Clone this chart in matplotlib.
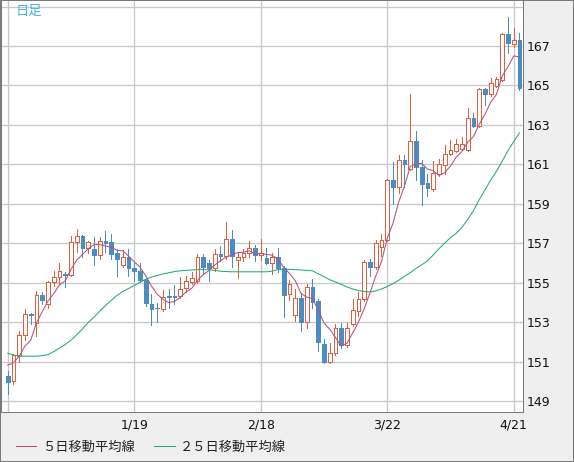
import matplotlib
matplotlib.use("Agg")
import matplotlib.pyplot as plt
from matplotlib.patches import Rectangle
import pandas as pd

# daily candles (oldest first)
opens = [150.26, 150.00, 151.27, 152.33, 153.42, 152.97, 154.38, 153.94, 155.01, 155.27,
         155.43, 155.40, 157.06, 157.38, 156.74, 156.70, 156.40, 157.09, 157.08, 156.48,
         155.89, 156.31, 155.74, 155.60, 155.13, 153.91, 153.73, 153.68, 154.33, 154.33,
         154.33, 154.72, 155.04, 155.10, 156.28, 155.99, 155.72, 156.45, 156.36, 157.21,
         156.14, 156.28, 156.50, 156.76, 156.40, 156.23, 156.02, 156.28, 155.72, 154.42,
         153.34, 154.24, 153.00, 154.79, 154.07, 151.90, 150.98, 151.41, 152.69, 151.82,
         152.89, 153.56, 154.16, 156.07, 155.80, 156.79, 157.16, 160.18, 159.84, 161.23,
         160.78, 162.17, 160.86, 160.04, 159.76, 160.52, 160.98, 161.50, 161.67, 161.76,
         161.74, 163.37, 162.94, 164.80, 164.54, 164.96, 165.27, 167.60, 167.09, 167.31]
highs = [150.51, 151.36, 152.55, 153.65, 153.48, 154.58, 154.53, 155.09, 155.60, 155.97,
         155.52, 157.38, 157.72, 157.43, 157.13, 157.30, 157.30, 157.64, 157.47, 156.70,
         156.65, 156.70, 156.02, 155.97, 155.18, 154.42, 153.99, 154.62, 154.67, 154.89,
         155.26, 155.35, 155.52, 156.45, 156.45, 156.16, 156.70, 156.84, 158.06, 157.69,
         156.53, 156.70, 157.13, 156.91, 157.21, 156.74, 156.50, 156.74, 155.86, 155.14,
         154.67, 154.45, 154.92, 155.18, 154.16, 152.12, 151.95, 152.89, 152.94, 152.97,
         154.16, 154.50, 156.16, 156.20, 157.18, 157.47, 160.27, 161.11, 161.45, 161.45,
         164.56, 162.69, 161.20, 160.52, 161.16, 161.25, 161.96, 162.25, 162.30, 162.38,
         163.86, 163.61, 164.85, 164.85, 165.40, 165.41, 167.65, 168.46, 167.90, 167.65]
lows = [149.34, 149.84, 151.00, 152.07, 152.89, 152.29, 153.94, 153.70, 154.84, 154.92,
        154.80, 155.35, 156.53, 156.28, 156.50, 155.89, 156.20, 156.53, 156.20, 155.35,
        155.77, 155.35, 155.09, 155.01, 153.82, 152.85, 153.02, 153.57, 153.73, 153.91,
        154.24, 154.50, 154.92, 154.96, 155.43, 155.06, 155.60, 156.11, 156.20, 155.77,
        155.23, 156.10, 156.28, 156.11, 156.16, 155.94, 155.43, 155.52, 153.27, 154.12,
        153.06, 152.55, 152.72, 153.73, 151.53, 150.93, 150.93, 151.31, 151.70, 151.73,
        152.79, 153.31, 154.07, 155.35, 155.68, 156.36, 157.13, 158.99, 159.53, 159.84,
        160.69, 160.18, 158.96, 159.37, 159.67, 160.43, 160.52, 161.45, 161.62, 161.71,
        161.67, 162.89, 162.89, 164.00, 164.48, 164.90, 165.23, 166.63, 166.96, 164.76]
closes = [149.97, 151.31, 152.33, 153.40, 153.38, 154.38, 154.12, 155.04, 155.30, 155.60,
          155.38, 157.04, 157.38, 156.74, 157.04, 156.40, 157.09, 157.03, 156.45, 156.20,
          156.31, 155.74, 155.57, 155.13, 153.99, 153.68, 153.70, 154.28, 154.28, 154.28,
          154.70, 155.06, 155.23, 156.28, 155.77, 155.72, 156.45, 156.33, 157.21, 156.36,
          156.28, 156.50, 156.74, 156.40, 156.50, 156.02, 156.28, 155.72, 154.38, 154.92,
          154.24, 153.00, 154.79, 154.04, 151.99, 150.98, 151.41, 152.69, 151.82, 152.72,
          153.60, 154.16, 156.07, 155.80, 157.01, 157.18, 160.18, 159.84, 161.23, 160.99,
          162.17, 160.86, 159.98, 159.79, 160.57, 161.00, 161.50, 161.71, 162.01, 162.01,
          163.37, 162.94, 164.80, 164.54, 165.10, 165.32, 167.60, 167.14, 167.31, 164.85]

# first 5-day MA values need closes before the window
ma5_head = [150.82, 150.93, 151.27, 151.78]
ma25 = [151.42, 151.33, 151.28, 151.27, 151.27, 151.27, 151.30, 151.35, 151.50, 151.68,
        151.86, 152.08, 152.35, 152.65, 152.98, 153.25, 153.55, 153.83, 154.10, 154.35,
        154.55, 154.70, 154.85, 155.02, 155.17, 155.28, 155.36, 155.44, 155.50, 155.56,
        155.60, 155.62, 155.64, 155.66, 155.66, 155.65, 155.62, 155.58, 155.56, 155.55,
        155.55, 155.55, 155.55, 155.55, 155.55, 155.55, 155.58, 155.66, 155.68, 155.67,
        155.66, 155.64, 155.62, 155.60, 155.45, 155.30, 155.15, 155.03, 154.92, 154.78,
        154.68, 154.60, 154.55, 154.53, 154.58, 154.68, 154.80, 154.95, 155.12, 155.32,
        155.50, 155.72, 155.90, 156.10, 156.40, 156.72, 157.00, 157.28, 157.50, 157.80,
        158.20, 158.65, 159.20, 159.70, 160.20, 160.65, 161.15, 161.70, 162.15, 162.60]

date_ticks = [0, 22, 44, 66, 88]
date_labels = ["", "1/19", "2/18", "3/22", "4/21"]
price_ticks = list(range(149, 170, 2))
price_labels = [str(p) for p in price_ticks[:-1]] + [""]

UP = "#e0603e"
DOWN = "#4a8cc4"
MA5_C = "#b8507e"
MA25_C = "#22ad70"
GRID = "#c8c8c8"
FRAME = "#7a7a7a"
PX = 0.72  # one pixel in points at 100 dpi

W, H = 574, 462
fig = plt.figure(figsize=(W / 100, H / 100), dpi=100, facecolor="#efefef")
ax = fig.add_axes([1 / W, 1 - 412 / H, 522 / W, 411 / H])
ax.set_facecolor("white")

n = len(closes)
for i in range(n):
    o, h, l, c = opens[i], highs[i], lows[i], closes[i]
    col = UP if c >= o else DOWN
    ax.vlines(i, l, h, color=col, lw=PX, zorder=2, antialiased=False)
    lo, hi = min(o, c), max(o, c)
    face = "white" if c >= o else DOWN
    ax.add_patch(Rectangle((i - 0.32, lo), 0.64, max(hi - lo, 0.01),
                           facecolor=face, edgecolor=col, lw=PX, zorder=3,
                           antialiased=False))

ma5 = pd.Series(closes).rolling(5).mean()
ma5.iloc[:4] = ma5_head
l5, = ax.plot(range(n), ma5, color=MA5_C, lw=0.75, zorder=4)
l25, = ax.plot(range(n), ma25, color=MA25_C, lw=0.75, zorder=4)

ax.set_xlim(-1.165, 89.62)
ax.set_ylim(148.44, 169.28)
ax.set_xticks(date_ticks)
ax.set_xticklabels(date_labels)
ax.set_yticks(price_ticks)
ax.set_yticklabels(price_labels)
ax.yaxis.tick_right()
ax.tick_params(axis="both", length=0, labelsize=9, colors="#111111")
ax.tick_params(axis="x", pad=5)
ax.tick_params(axis="y", pad=3)
ax.grid(True, color=GRID, lw=PX * 1.3)
ax.set_axisbelow(True)
for s in ax.spines.values():
    s.set_color(FRAME)
    s.set_linewidth(PX)
ax.spines["top"].set_visible(False)

jp = ["Noto Sans CJK JP", "DejaVu Sans"]
fig.text(16 / W, 1 - 11 / H, "日足", color="#45b4e8", fontsize=9.5,
         family=jp, va="center", ha="left")

fig.legend([l5, l25], ["５日移動平均線", "２５日移動平均線"],
           loc="center left", bbox_to_anchor=(16 / W, 1 - 447 / H),
           ncol=2, frameon=False, borderpad=0, borderaxespad=0,
           handlelength=1.55, handletextpad=0.4, columnspacing=1.5,
           prop={"family": jp, "size": 9.5}, labelcolor="#222222")

fig.patches.append(Rectangle((0, 0), 1, 1, transform=fig.transFigure,
                             fill=False, edgecolor=FRAME, lw=2 * PX))

fig.savefig("out.png", dpi=100, facecolor=fig.get_facecolor())
